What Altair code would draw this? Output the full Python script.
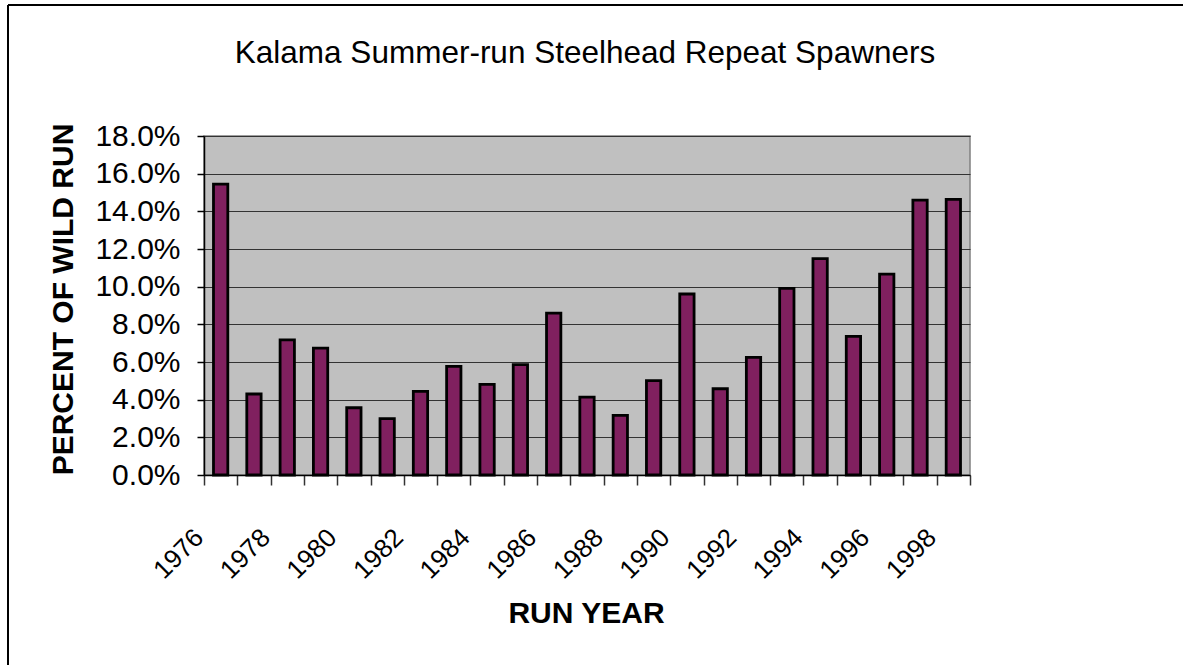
import altair as alt
import pandas as pd

years = list(range(1976, 1999))
percent = [15.44, 4.30, 7.17, 6.74, 3.57, 2.99, 4.44, 5.77, 4.81, 5.86, 8.60,
           4.14, 3.17, 5.01, 9.61, 4.58, 6.25, 9.91, 11.49, 7.36, 10.67, 14.60, 14.64]
y_ticks = [0, 0.02, 0.04, 0.06, 0.08, 0.10, 0.12, 0.14, 0.16, 0.18]
title_text = ["Kalama Summer-run Steelhead Repeat Spawners"]

df = pd.DataFrame({"year": years, "share": [p / 100 for p in percent]})
title_df = pd.DataFrame({"t": title_text})

FONT = "Liberation Sans"
W, H = 766, 339
PAD_L, PAD_T = 204, 136

bars = alt.Chart(df).mark_bar(
    color="#80205F", stroke="black", strokeWidth=2.8,
    width=alt.RelativeBandSize(0.43)
).encode(
    x=alt.X("year:O",
            scale=alt.Scale(paddingInner=0, paddingOuter=0),
            axis=alt.Axis(
                title="RUN YEAR", titleFont=FONT, titleFontSize=30, titleFontWeight="bold",
                titleColor="black", titleX=382, titleY=147, titleAlign="center",
                titleBaseline="alphabetic", titleAnchor="start",
                labelExpr="datum.value % 2 == 0 ? datum.label : ''",
                labelAngle=-45, labelAlign="right", labelBaseline="top",
                labelFont=FONT, labelFontSize=26, labelColor="black",
                labelOffset=-31, labelPadding=39, labelOverlap=False,
                tickBand="extent", tickSize=10, tickColor="#333", tickWidth=1.5,
                domainColor="black", domainWidth=1.5, grid=False)),
    y=alt.Y("share:Q",
            scale=alt.Scale(domain=[0, 0.18], nice=False),
            axis=alt.Axis(
                title="PERCENT OF WILD RUN", titleFont=FONT, titleFontSize=30,
                titleFontWeight="bold", titleColor="black", titleX=-132, titleY=163,
                titleAlign="center", titleBaseline="alphabetic", titleAnchor="start",
                values=y_ticks, format=".1%",
                labelFont=FONT, labelFontSize=30, labelColor="black",
                labelPadding=17, tickSize=7, tickColor="black", tickWidth=1.5,
                domainColor="black", domainWidth=1.5,
                grid=True, gridColor="#333", gridWidth=1.2)),
)

title = alt.Chart(title_df).mark_text(
    font=FONT, fontSize=31.5, color="black", align="center", baseline="alphabetic"
).encode(text="t:N", x=alt.value(381), y=alt.value(-73))

border_left = alt.Chart(df).mark_rule(color="black", strokeWidth=1.5).encode(
    x=alt.value(-196), y=alt.value(-131), y2=alt.value(700))
border_top = alt.Chart(df).mark_rule(color="black", strokeWidth=1.5).encode(
    x=alt.value(-196), x2=alt.value(1100), y=alt.value(-131))

chart = alt.layer(bars, title, border_left, border_top).properties(
    width=W, height=H,
    autosize=alt.AutoSizeParams(type="none"),
    padding={"left": PAD_L, "top": PAD_T, "right": 1183 - PAD_L - W, "bottom": 665 - PAD_T - H},
    background="white",
).configure_view(fill="#C0C0C0", stroke="#808080", strokeWidth=1.5)

chart.save("out.html", embed_options={"renderer": "svg", "actions": False})
